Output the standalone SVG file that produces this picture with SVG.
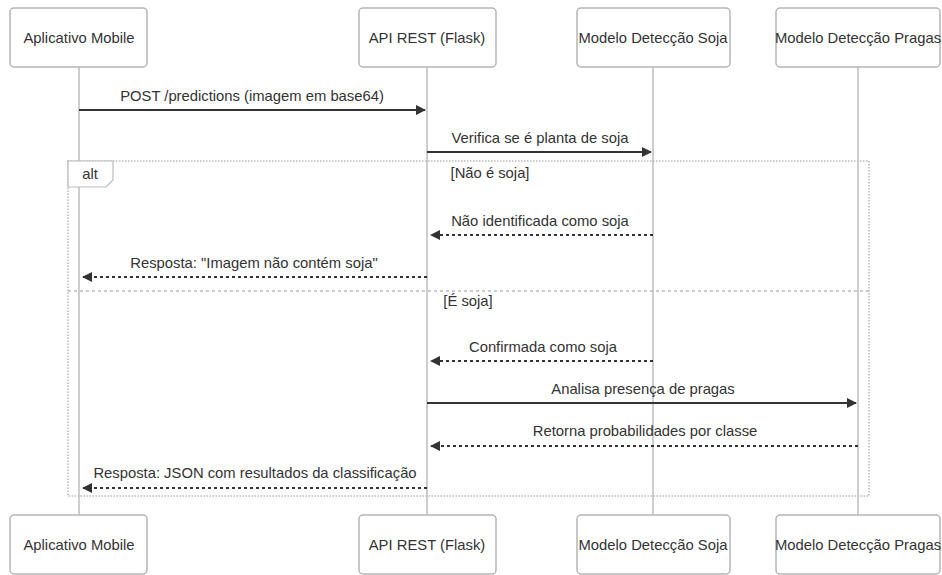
<svg xmlns="http://www.w3.org/2000/svg" width="942" height="575" viewBox="0 0 942 575">
<style>
text{font-family:"Liberation Sans",Arial,sans-serif;font-size:14.8px;fill:#333}
.actor rect{fill:#fff;stroke:#b5b5b5;stroke-width:1.5}
.actor text{text-anchor:middle;dominant-baseline:central}
.life{stroke:#bdbdbd;stroke-width:1.5}
.msg{stroke:#333;stroke-width:2;fill:none}
.dash{stroke-dasharray:3,3}
.lbl{text-anchor:middle}
.frame{fill:none;stroke:#bbb;stroke-width:1.5;stroke-dasharray:1.5,1.5}
.sep{stroke:#bbb;stroke-width:1.5;stroke-dasharray:3,3}
</style>
<defs>
<marker id="ah" viewBox="0 0 10 10" refX="9" refY="5" markerWidth="10" markerHeight="10" markerUnits="userSpaceOnUse" orient="auto">
<path d="M0,0 L10,5 L0,10 z" fill="#333"/>
</marker>
</defs>
<g id="lifelines">
<line class="life" x1="79" y1="67" x2="79" y2="515"/>
<line class="life" x1="427" y1="67" x2="427" y2="515"/>
<line class="life" x1="653" y1="67" x2="653" y2="515"/>
<line class="life" x1="858" y1="67" x2="858" y2="515"/>
</g>
<g id="alt-frame">
<rect class="frame" x="68" y="161" width="801" height="335"/>
<path d="M68,161 H113 V180 L106,187 H68 z" fill="#fff" stroke="#bbb" stroke-width="1.2"/>
<text x="90" y="179" text-anchor="middle">alt</text>
<text x="490" y="178" text-anchor="middle">[Não é soja]</text>
<line class="sep" x1="68" y1="291" x2="869" y2="291"/>
<text x="468" y="306" text-anchor="middle">[É soja]</text>
</g>
<g id="actor-mobile-top" class="actor"><rect x="10" y="8" width="137" height="59" rx="4"/><text x="79" y="38">Aplicativo Mobile</text></g>
<g id="actor-api-top" class="actor"><rect x="359" y="8" width="137" height="59" rx="4"/><text x="427" y="38">API REST (Flask)</text></g>
<g id="actor-soja-top" class="actor"><rect x="577" y="8" width="153" height="59" rx="4"/><text x="653" y="38">Modelo Detecção Soja</text></g>
<g id="actor-pragas-top" class="actor"><rect x="776" y="8" width="164" height="59" rx="4"/><text x="858" y="38">Modelo Detecção Pragas</text></g>
<g id="actor-mobile-bottom" class="actor"><rect x="10" y="515" width="137" height="59" rx="4"/><text x="79" y="545">Aplicativo Mobile</text></g>
<g id="actor-api-bottom" class="actor"><rect x="359" y="515" width="137" height="59" rx="4"/><text x="427" y="545">API REST (Flask)</text></g>
<g id="actor-soja-bottom" class="actor"><rect x="577" y="515" width="153" height="59" rx="4"/><text x="653" y="545">Modelo Detecção Soja</text></g>
<g id="actor-pragas-bottom" class="actor"><rect x="776" y="515" width="164" height="59" rx="4"/><text x="858" y="545">Modelo Detecção Pragas</text></g>
<g id="connectors">
<line class="msg" x1="79" y1="110" x2="425" y2="110" marker-end="url(#ah)"/>
<text class="lbl" x="252" y="101">POST /predictions (imagem em base64)</text>
<line class="msg" x1="427" y1="152" x2="651" y2="152" marker-end="url(#ah)"/>
<text class="lbl" x="540" y="143">Verifica se é planta de soja</text>
<line class="msg dash" x1="653" y1="235" x2="431" y2="235" marker-end="url(#ah)"/>
<text class="lbl" x="540" y="226">Não identificada como soja</text>
<line class="msg dash" x1="427" y1="277" x2="83" y2="277" marker-end="url(#ah)"/>
<text class="lbl" x="254" y="268">Resposta: "Imagem não contém soja"</text>
<line class="msg dash" x1="653" y1="361" x2="431" y2="361" marker-end="url(#ah)"/>
<text class="lbl" x="543" y="352">Confirmada como soja</text>
<line class="msg" x1="427" y1="403" x2="856" y2="403" marker-end="url(#ah)"/>
<text class="lbl" x="643" y="394">Analisa presença de pragas</text>
<line class="msg dash" x1="858" y1="446" x2="431" y2="446" marker-end="url(#ah)"/>
<text class="lbl" x="645" y="436">Retorna probabilidades por classe</text>
<line class="msg dash" x1="427" y1="488" x2="83" y2="488" marker-end="url(#ah)"/>
<text class="lbl" x="255" y="478">Resposta: JSON com resultados da classificação</text>
</g>
</svg>
